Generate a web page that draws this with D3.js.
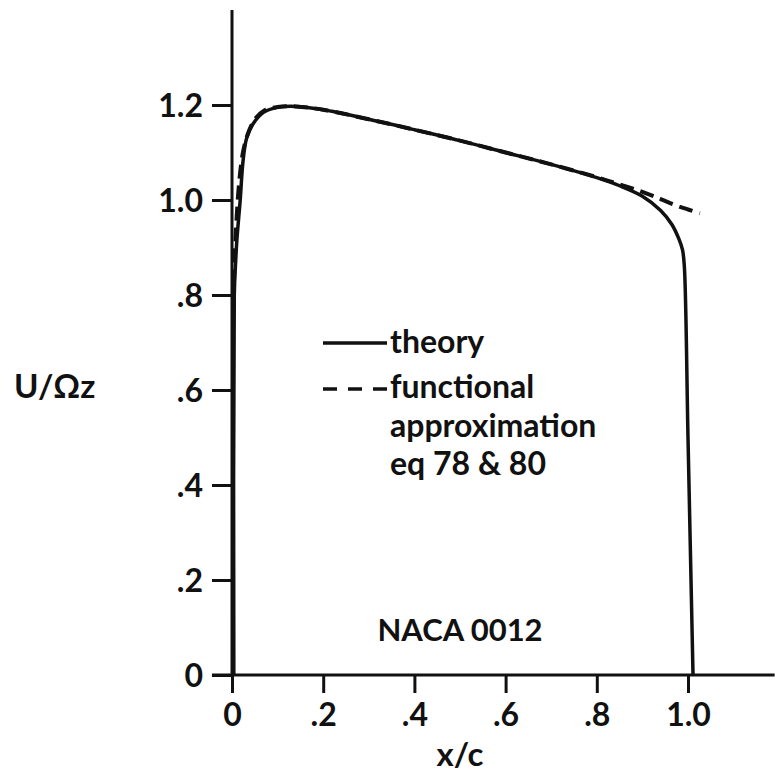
<!DOCTYPE html>
<html>
<head>
<meta charset="utf-8">
<script src="https://cdn.jsdelivr.net/npm/d3@7"></script>
<style>
  body { margin: 0; background: #fff; }
  svg text { font-family: Lato, "DejaVu Sans", sans-serif; font-weight: 700; fill: #111; }
</style>
</head>
<body>
<div id="chart"></div>
<script>
// values (x/c vs U/Omega z)
var theoryX = [0.004, 0.005, 0.008, 0.011, 0.018, 0.024, 0.032, 0.046, 0.07, 0.1, 0.14, 0.2, 0.3, 0.4, 0.5, 0.6, 0.7, 0.8, 0.85, 0.9, 0.94, 0.965, 0.98, 0.988, 0.992, 1.0, 1.011];
var theoryY = [0, 0.8, 0.87, 0.92, 1.0, 1.08, 1.13, 1.16, 1.185, 1.195, 1.197, 1.19, 1.17, 1.148, 1.125, 1.10, 1.075, 1.047, 1.03, 1.008, 0.978, 0.948, 0.918, 0.895, 0.86, 0.5, 0];

var approxX = [0.003, 0.006, 0.01, 0.016, 0.024, 0.035, 0.05, 0.07, 0.1, 0.14, 0.2, 0.3, 0.4, 0.5, 0.6, 0.7, 0.8, 0.85, 0.9, 0.94, 0.97, 1.0, 1.026];
var approxY = [0.78, 0.88, 0.96, 1.04, 1.1, 1.14, 1.17, 1.188, 1.196, 1.197, 1.19, 1.17, 1.148, 1.125, 1.10, 1.075, 1.048, 1.033, 1.017, 1.002, 0.99, 0.98, 0.972];

var xTicks = [0, 0.2, 0.4, 0.6, 0.8, 1.0];
var xTickLabels = ["0", ".2", ".4", ".6", ".8", "1.0"];
var yTicks = [0, 0.2, 0.4, 0.6, 0.8, 1.0, 1.2];
var yTickLabels = ["0", ".2", ".4", ".6", ".8", "1.0", "1.2"];

var legendLabels = ["theory", "functional", "approximation", "eq 78 & 80"];

var W = 775, H = 777;
var svg = d3.select("#chart").append("svg")
    .attr("width", W)
    .attr("height", H);

var x = d3.scaleLinear().domain([0, 1]).range([232, 688]);
var y = d3.scaleLinear().domain([0, 1.4]).range([675, 10]);

// axis lines
svg.append("line")
    .attr("x1", x(-0.044)).attr("x2", x(1.19))
    .attr("y1", y(0)).attr("y2", y(0))
    .style("stroke", "#111").style("stroke-width", 3);
svg.append("line")
    .attr("x1", x(0)).attr("x2", x(0))
    .attr("y1", y(0)).attr("y2", y(1.4))
    .style("stroke", "#111").style("stroke-width", 3);

// y ticks
var yAxis = d3.axisLeft(y)
    .tickValues(yTicks)
    .tickSize(20)
    .tickSizeOuter(0)
    .tickPadding(9)
    .tickFormat(function(d, i) { return yTickLabels[i]; });
var gy = svg.append("g").attr("transform", "translate(" + x(0) + ",0)").call(yAxis);
gy.select(".domain").remove();
gy.selectAll("line").style("stroke", "#111").style("stroke-width", 3);
gy.selectAll("text")
    .style("font-family", "Lato, sans-serif")
    .style("font-size", "32px")
    .style("font-weight", "700")
    .attr("fill", "#111")
    .attr("dy", "0.36em");

// x ticks
var xAxis = d3.axisBottom(x)
    .tickValues(xTicks)
    .tickSize(18)
    .tickSizeOuter(0)
    .tickFormat(function(d, i) { return xTickLabels[i]; });
var gx = svg.append("g").attr("transform", "translate(0," + y(0) + ")").call(xAxis);
gx.select(".domain").remove();
gx.selectAll("line").style("stroke", "#111").style("stroke-width", 3);
gx.selectAll("text")
    .style("font-family", "Lato, sans-serif")
    .style("font-size", "32px")
    .style("font-weight", "700")
    .attr("fill", "#111")
    .attr("y", 51)
    .attr("dy", 0);

// curves
var line = d3.line()
    .x(function(d) { return x(d[0]); })
    .y(function(d) { return y(d[1]); })
    .curve(d3.curveCatmullRom.alpha(0.5));

var theory = d3.zip(theoryX, theoryY);
var approx = d3.zip(approxX, approxY);

svg.append("path")
    .datum(approx)
    .attr("d", line)
    .style("fill", "none")
    .style("stroke", "#111")
    .style("stroke-width", 4)
    .style("stroke-dasharray", "14,7");

svg.append("path")
    .datum(theory)
    .attr("d", line)
    .style("fill", "none")
    .style("stroke", "#111")
    .style("stroke-width", 3.5);

// legend
svg.append("line")
    .attr("x1", 323).attr("x2", 387).attr("y1", 343).attr("y2", 343)
    .style("stroke", "#111").style("stroke-width", 3.5);
svg.append("line")
    .attr("x1", 323).attr("x2", 387).attr("y1", 389).attr("y2", 389)
    .style("stroke", "#111").style("stroke-width", 3.5)
    .style("stroke-dasharray", "14,11");

var legendY = [353, 398, 437, 475];
svg.selectAll(".legend")
    .data(legendLabels)
    .enter()
    .append("text")
    .attr("class", "legend")
    .attr("x", 390)
    .attr("y", function(d, i) { return legendY[i]; })
    .style("font-size", "32px")
    .text(function(d) { return d; });

// annotations
svg.append("text")
    .attr("x", (x(0) + x(1)) / 2)
    .attr("y", 641)
    .attr("text-anchor", "middle")
    .style("font-size", "31px")
    .text("NACA 0012");

svg.append("text")
    .attr("x", x(0.5))
    .attr("y", 766)
    .attr("text-anchor", "middle")
    .style("font-size", "33px")
    .text("x/c");

svg.append("text")
    .attr("x", 14)
    .attr("y", 398)
    .style("font-size", "33px")
    .text("U/\u03A9z");
</script>
</body>
</html>
